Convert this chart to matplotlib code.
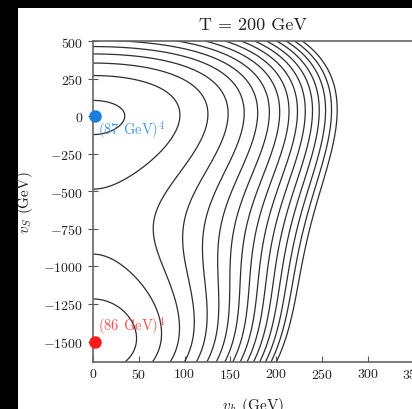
import numpy as np
import matplotlib
matplotlib.use("Agg")
import matplotlib.pyplot as plt
from matplotlib.patches import Rectangle

plt.rcParams['font.family'] = 'serif'
plt.rcParams['font.serif'] = ['cmr10']
plt.rcParams['mathtext.fontset'] = 'cm'
plt.rcParams['axes.formatter.use_mathtext'] = True

# ---- data (potential in units of the contour spacing) ----
# V(h, s) = F(s) + M(s) h^2 + q h^4 ;  F, M polynomials in s
F_coeffs = [-0.139, 0.0, 1.1066e-5, 1.5385e-8, 5.233e-12]   # c0 + c2 s^2 + c3 s^3 + c4 s^4
M_coeffs = [1.14e-4, -2.0e-8, 6.79e-11]                      # m0 + m1 s + m2 s^2
q_quartic = 1.4e-9
levels = list(range(0, 16))

minima_h = [2, 2]
minima_s = [0, -1500]
minima_labels = [r"(87 GeV)$^4$", r"(86 GeV)$^4$"]
minima_colors = ['#1a7fdc', '#ff1a1a']
label_colors = ['#4a9ae6', '#ff4d4d']
label_pos_h = [5, 5]
label_pos_s = [-88, -1390]

xticks = [0, 50, 100, 150, 200, 250, 300, 350]
yticks = [500, 250, 0, -250, -500, -750, -1000, -1250, -1500]

# ---- figure ----
W, H = 412, 410
fig = plt.figure(figsize=(W / 100, H / 100), dpi=100)
fig.patch.set_facecolor('black')
fig.add_artist(Rectangle((18 / W, 0), 1, (H - 9) / H, transform=fig.transFigure,
                         facecolor='white', edgecolor='none', zorder=-10))

ax = fig.add_axes([93 / W, 47 / H, 320.6 / W, 321 / H])
ax.set_facecolor('white')

h = np.linspace(0, 360, 700)
s = np.linspace(-1700, 520, 900)
Hh, Ss = np.meshgrid(h, s)
F = sum(c * Ss ** i for i, c in enumerate(F_coeffs))
M = sum(c * Ss ** i for i, c in enumerate(M_coeffs))
V = F + M * Hh ** 2 + q_quartic * Hh ** 4

ax.contour(Hh, Ss, V, levels=levels, colors='#2e2e2e', linewidths=0.9)

for hx, sy, c in zip(minima_h, minima_s, minima_colors):
    ax.plot(hx, sy, 'o', color=c, markersize=8, clip_on=False, zorder=5)
for hx, sy, t, c in zip(label_pos_h, label_pos_s, minima_labels, label_colors):
    ax.text(hx, sy, t, color=c, fontsize=10.5, va='center', ha='left')

ax.set_xlim(0, 350)
ax.set_ylim(-1636, 500)
ax.set_xticks(xticks)
ax.set_yticks(yticks)
ax.tick_params(axis='both', direction='in', length=4, width=0.8, color='#555555',
               labelsize=10, labelcolor='#222222')
ax.tick_params(axis='y', direction='inout', length=7)
for sp in ax.spines.values():
    sp.set_color('#666666')
    sp.set_linewidth(1.2)

ax.set_title('T = 200 GeV', fontsize=13, color='#222222', pad=9)
ax.set_xlabel(r'$v_h$ (GeV)', fontsize=11, color='#222222', labelpad=10)
ax.set_ylabel(r'$v_S$ (GeV)', fontsize=11, color='#222222', labelpad=6)

fig.savefig('out.png', dpi=100, facecolor=fig.get_facecolor())
